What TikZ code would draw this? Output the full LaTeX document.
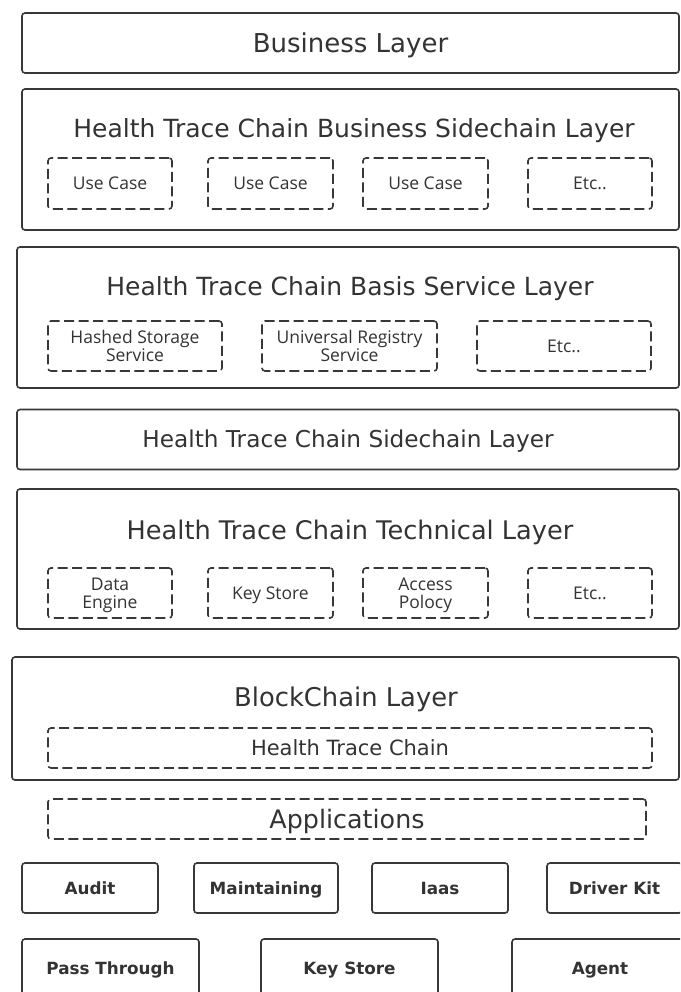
\documentclass[tikz,border=0pt]{standalone}
\usepackage{fontspec}
\setmainfont{DejaVu Sans}
\newfontfamily\titlefont{DejaVu Sans}
\newfontfamily\lblfont{Open Sans}
\newfontfamily\boldfont{DejaVu Sans}
\definecolor{linec}{HTML}{383838}
\definecolor{txt}{HTML}{333333}
\begin{document}
\begin{tikzpicture}[x=1pt,y=-1pt,
  solidbox/.style={draw=linec, line width=1.6pt, rounded corners=3pt, inner sep=0pt, fill=white, text=txt},
  dashbox/.style={draw=linec, line width=1.6pt, rounded corners=3pt, inner sep=0pt, dash pattern=on 10pt off 4.5pt, text=txt},
  tsize/.style n args={2}{font=\titlefont\fontsize{#1}{#1}\selectfont, text height=#2, text depth=0pt},
  title/.style={text=txt, inner sep=0pt},
  lbl/.style={dashbox, align=center, font=\lblfont\fontsize{17.5}{18.5}\selectfont, text depth=0pt},
  lblone/.style={lbl, text height=12.5pt},
  bbox/.style={solidbox, font=\boldfont\bfseries\fontsize{16.8}{20}\selectfont, text height=12.25pt, text depth=0pt}
]
\useasboundingbox (0,0) rectangle (680,992);
\clip (0,0) rectangle (680,992);
\fill[white] (0,0) rectangle (680,992);

% Business Layer
\node[solidbox, tsize={26pt}{19pt}, minimum width=657pt, minimum height=60pt] (biz) at (350.5,43) {Business Layer};

% Business Sidechain Layer
\node[solidbox, minimum width=657pt, minimum height=141pt] (bside) at (350.5,159.5) {};
\node[title, tsize={25pt}{18.2pt}] (bsideT) at (354,128) {Health Trace Chain Business Sidechain Layer};
\node[lblone, minimum width=124pt, minimum height=51pt] (uc1) at (110,183.5) {Use Case};
\node[lblone, minimum width=125pt, minimum height=51pt] (uc2) at (270.5,183.5) {Use Case};
\node[lblone, minimum width=125pt, minimum height=51pt] (uc3) at (425.5,183.5) {Use Case};
\node[lblone, minimum width=124pt, minimum height=51pt] (uc4) at (590,183.5) {Etc..};

% Basis Service Layer
\node[solidbox, minimum width=662pt, minimum height=141pt] (basis) at (348,317.5) {};
\node[title, tsize={25pt}{18.2pt}] (basisT) at (350,286) {Health Trace Chain Basis Service Layer};
\node[lbl, minimum width=174pt, minimum height=50pt] (hs) at (135,346) {Hashed Storage\\Service};
\node[lbl, minimum width=175pt, minimum height=50pt] (ur) at (349.5,346) {Universal Registry\\Service};
\node[lblone, minimum width=174pt, minimum height=50pt] (be) at (564,346) {Etc..};

% Sidechain Layer
\node[solidbox, tsize={23.2pt}{16.9pt}, minimum width=662pt, minimum height=60pt] (side) at (348,439.5) {Health Trace Chain Sidechain Layer};

% Technical Layer
\node[solidbox, minimum width=662pt, minimum height=140pt] (tech) at (348,559) {};
\node[title, tsize={25.6pt}{18.7pt}] (techT) at (350,530) {Health Trace Chain Technical Layer};
\node[lbl, minimum width=124pt, minimum height=50pt] (de) at (110,593) {Data\\Engine};
\node[lblone, minimum width=125pt, minimum height=50pt] (ks) at (270.5,593) {Key Store};
\node[lbl, minimum width=125pt, minimum height=50pt] (ap) at (425.5,593) {Access\\Polocy};
\node[lblone, minimum width=124pt, minimum height=50pt] (te) at (590,593) {Etc..};

% BlockChain Layer
\node[solidbox, minimum width=667pt, minimum height=123pt] (bc) at (345.5,718.5) {};
\node[title, tsize={25.8pt}{18.8pt}] (bcT) at (346,697) {BlockChain Layer};
\node[dashbox, tsize={21pt}{15.3pt}, minimum width=604pt, minimum height=40pt] (htc) at (350,748) {Health Trace Chain};

% Applications
\node[dashbox, tsize={25.4pt}{18.5pt}, minimum width=598pt, minimum height=40pt] (apps) at (347,819) {Applications};

% Bottom rows
\node[bbox, minimum width=136pt, minimum height=50pt] (audit) at (90,888) {Audit};
\node[bbox, minimum width=144pt, minimum height=50pt] (maint) at (266,888) {Maintaining};
\node[bbox, minimum width=136pt, minimum height=50pt] (iaas) at (440,888) {Iaas};
\node[bbox, minimum width=135pt, minimum height=50pt] (dk) at (614.5,888) {Driver Kit};
\node[bbox, minimum width=177pt, minimum height=58pt] (pt) at (110.5,968) {Pass Through};
\node[bbox, minimum width=177pt, minimum height=58pt] (ks2) at (349.5,968) {Key Store};
\node[bbox, minimum width=176pt, minimum height=58pt] (agent) at (600,968) {Agent};
\end{tikzpicture}
\end{document}
